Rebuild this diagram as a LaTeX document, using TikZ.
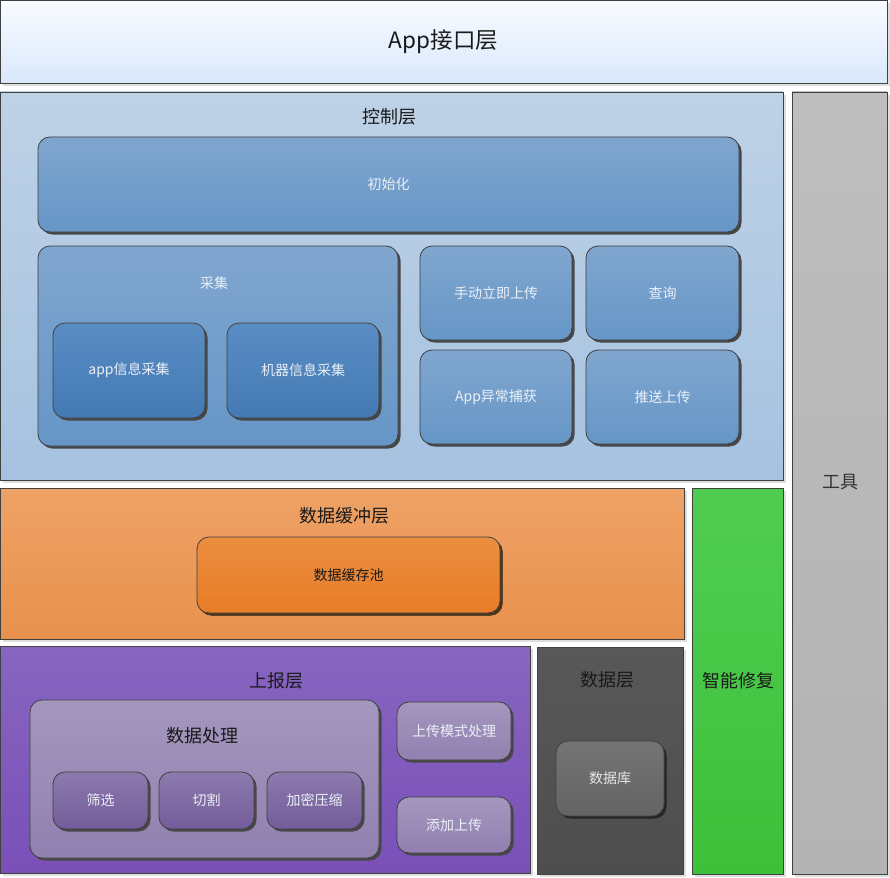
\documentclass[tikz,border=0pt]{standalone}
\usepackage{fontspec}
\setmainfont{Noto Sans CJK SC}
\usetikzlibrary{shadows}
\definecolor{edge}{HTML}{404040}
\definecolor{lighttxt}{HTML}{EAF0F7}
\definecolor{darktxt}{HTML}{1A1A1A}
\definecolor{blue1}{HTML}{80A6CF}
\definecolor{blue2}{HTML}{6696C7}
\definecolor{blue3}{HTML}{5A8DC4}
\definecolor{blue4}{HTML}{4479B3}
\definecolor{pur1}{HTML}{A497BE}
\definecolor{pur2}{HTML}{9180B0}
\definecolor{pur3}{HTML}{8C7AAD}
\definecolor{pur4}{HTML}{735C9A}
\definecolor{app1}{HTML}{F8FBFF}
\definecolor{app2}{HTML}{DAE8FC}
\definecolor{ctl1}{HTML}{BED2E6}
\definecolor{ctl2}{HTML}{A6C2E0}
\definecolor{gry1}{HTML}{BEBEBE}
\definecolor{gry2}{HTML}{B3B3B3}
\definecolor{org1}{HTML}{EEA266}
\definecolor{org2}{HTML}{E8914D}
\definecolor{org3}{HTML}{EA8E40}
\definecolor{org4}{HTML}{E87C26}
\definecolor{grn1}{HTML}{50CD51}
\definecolor{grn2}{HTML}{3EC03A}
\definecolor{vio1}{HTML}{8765C0}
\definecolor{vio2}{HTML}{7A50B8}
\definecolor{dk1}{HTML}{585858}
\definecolor{dk2}{HTML}{4E4E4E}
\definecolor{db1}{HTML}{747474}
\definecolor{db2}{HTML}{646464}
\tikzset{
  layer/.style={draw=edge, line width=0.8pt, inner sep=0pt, shading=axis,
    drop shadow={shadow xshift=3pt, shadow yshift=-3pt, fill=black!13, opacity=1}},
  rbox/.style={draw=edge, line width=0.8pt, rounded corners=12pt, inner sep=0pt, shading=axis,
    drop shadow={shadow xshift=2.5pt, shadow yshift=-2.5pt, fill=black!72, opacity=1}},
  small/.style={font=\fontsize{14}{16}\selectfont, text=lighttxt},
  title/.style={font=\fontsize{18}{20}\selectfont, text=darktxt},
  bluebox/.style={rbox, top color=blue1, bottom color=blue2},
  bluebox2/.style={rbox, top color=blue3, bottom color=blue4},
  purplebox/.style={rbox, top color=pur1, bottom color=pur2},
  purplebox2/.style={rbox, top color=pur3, bottom color=pur4},
}
\begin{document}
\begin{tikzpicture}[x=1pt,y=-1pt]
\useasboundingbox (0,0) rectangle (890,877);
\fill[white] (0,0) rectangle (890,877);
% App layer
\node[layer, top color=app1, bottom color=app2, minimum width=887pt, minimum height=83pt,
  font=\fontsize{22.5}{26}\selectfont, text=darktxt] (app) at (443.5,41.5) {App接口层};
% control layer
\node[layer, top color=ctl1, bottom color=ctl2, minimum width=783pt, minimum height=388pt] (ctrl) at (391.5,286) {};
\node[title] (ctrlt) at (389,117) {控制层};
\node[bluebox, minimum width=701pt, minimum height=95pt, small] (init) at (388.5,184.5) {初始化};
\node[bluebox, minimum width=360pt, minimum height=200pt] (cj) at (218,346) {};
\node[small] (cjt) at (214,283) {采集};
\node[bluebox2, minimum width=152pt, minimum height=95pt, small] (appcj) at (129,370.5) {app信息采集};
\node[bluebox2, minimum width=152pt, minimum height=95pt, small] (jqcj) at (303,370.5) {机器信息采集};
\node[bluebox, minimum width=152pt, minimum height=94pt, small] (sd) at (496,293) {手动立即上传};
\node[bluebox, minimum width=153pt, minimum height=94pt, small] (cx) at (662.5,293) {查询};
\node[bluebox, minimum width=152pt, minimum height=94pt, small] (yc) at (496,397) {App异常捕获};
\node[bluebox, minimum width=153pt, minimum height=94pt, small] (ts) at (662.5,397) {推送上传};
% tools
\node[layer, top color=gry1, bottom color=gry2, minimum width=95pt, minimum height=782pt] (tool) at (839.5,483) {};
\node[title, text=black!80] (toolt) at (840,482) {工具};
% buffer layer
\node[layer, top color=org1, bottom color=org2, minimum width=684pt, minimum height=151pt] (buf) at (342,563.5) {};
\node[title] (buft) at (344,516) {数据缓冲层};
\node[rbox, top color=org3, bottom color=org4,
  minimum width=303pt, minimum height=76pt, font=\fontsize{14}{16}\selectfont, text=darktxt,
  drop shadow={shadow xshift=2.5pt, shadow yshift=-2.5pt, fill=black!60!brown, opacity=1}] (pool) at (348.5,575) {数据缓存池};
% smart repair
\node[layer, top color=grn1, bottom color=grn2, minimum width=91pt, minimum height=386pt] (fix) at (737.5,681) {};
\node[title] (fixt) at (738,681) {智能修复};
% report layer
\node[layer, top color=vio1, bottom color=vio2, minimum width=530pt, minimum height=227pt] (rep) at (265,759.5) {};
\node[title] (rept) at (276,681) {上报层};
\node[purplebox, minimum width=349pt, minimum height=158pt] (proc) at (204.5,779) {};
\node[title] (proct) at (202,736) {数据处理};
\node[purplebox2, minimum width=95pt, minimum height=57pt, small] (sx) at (100.5,800.5) {筛选};
\node[purplebox2, minimum width=95pt, minimum height=57pt, small] (qg) at (206.5,800.5) {切割};
\node[purplebox2, minimum width=95pt, minimum height=57pt, small] (jm) at (314.5,800.5) {加密压缩};
\node[purplebox, minimum width=114pt, minimum height=58pt, small] (ms) at (454,731) {上传模式处理};
\node[purplebox, minimum width=114pt, minimum height=56pt, small] (tj) at (454,825) {添加上传};
% data layer
\node[layer, top color=dk1, bottom color=dk2, minimum width=146pt, minimum height=227pt] (data) at (610,760.5) {};
\node[title] (datat) at (607,680) {数据层};
\node[rbox, top color=db1, bottom color=db2, minimum width=108pt, minimum height=75pt, small, text=black!10,
  drop shadow={shadow xshift=2.5pt, shadow yshift=-2.5pt, fill=black!85, opacity=1}] (db) at (610,778.5) {数据库};
\end{tikzpicture}
\end{document}
